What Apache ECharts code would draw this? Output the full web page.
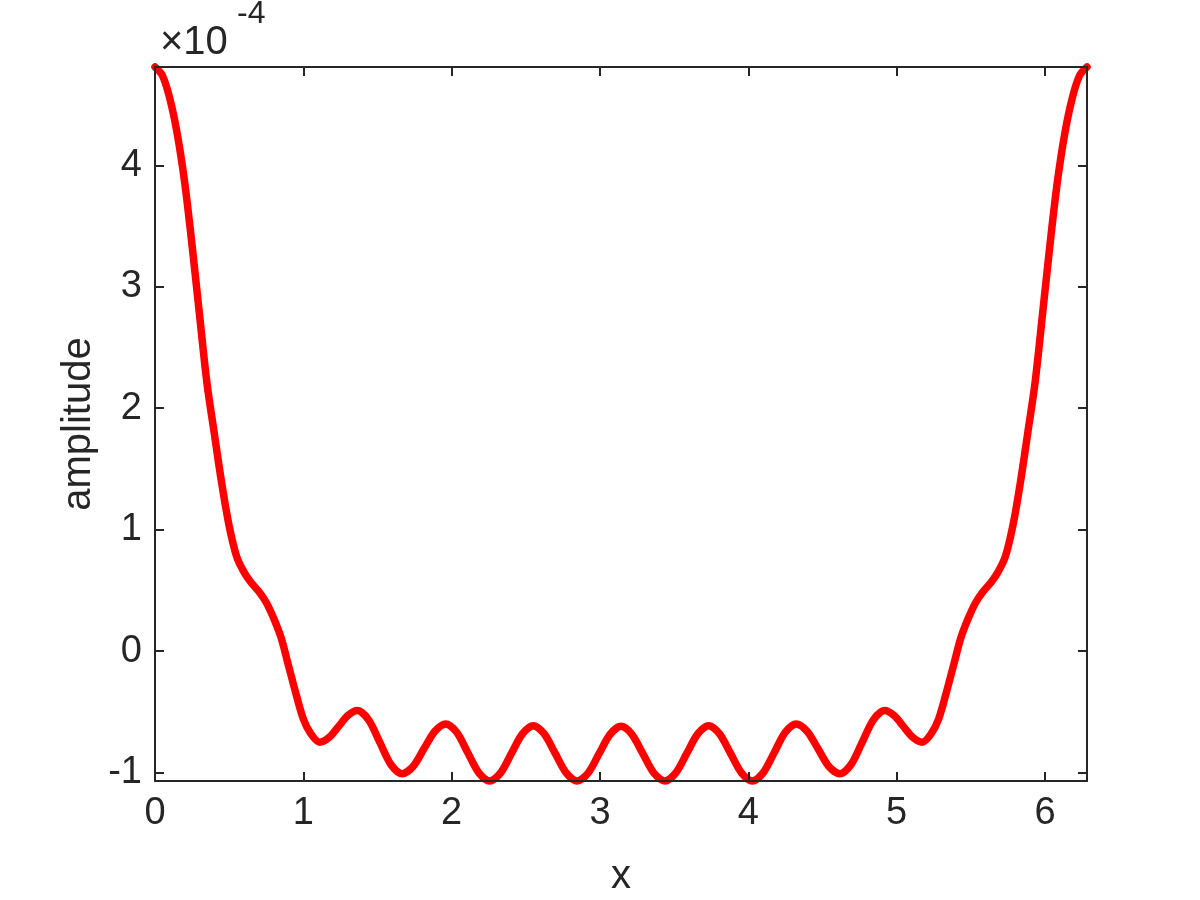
<!DOCTYPE html>
<html>
<head>
<meta charset="utf-8">
<script src="https://cdn.jsdelivr.net/npm/echarts@6/dist/echarts.min.js"></script>
<style>
  html, body { margin: 0; padding: 0; background: #ffffff; }
  #chart { width: 1200px; height: 900px; }
</style>
</head>
<body>
<div id="chart"></div>
<script>
// x positions (radians, 0 .. 2*pi)
const xValues = [0, 0.05, 0.10, 0.15, 0.20, 0.25, 0.30, 0.35, 0.40, 0.45, 0.50, 0.55, 0.60, 0.65, 0.70, 0.75, 0.80, 0.85, 0.90, 0.95, 1.00, 1.05,
  1.11, 1.174, 1.238, 1.301, 1.365,
  1.44, 1.515, 1.59, 1.666,
  1.74, 1.813, 1.887, 1.96,
  2.034, 2.108, 2.182, 2.256,
  2.33, 2.403, 2.477, 2.55,
  2.624, 2.698, 2.772, 2.846,
  2.92, 2.994, 3.068, 3.142,
  3.215, 3.289, 3.363, 3.437,
  3.511, 3.585, 3.659, 3.733,
  3.806, 3.88, 3.954, 4.027,
  4.101, 4.175, 4.249, 4.323,
  4.396, 4.47, 4.543, 4.617,
  4.693, 4.768, 4.843, 4.918,
  4.982, 5.045, 5.109, 5.173,
  5.233, 5.283, 5.333, 5.383, 5.433, 5.483, 5.533, 5.583, 5.633, 5.683, 5.733, 5.783, 5.833, 5.883, 5.933, 5.983, 6.033, 6.083, 6.133, 6.183, 6.233, 6.2832];

// amplitude, in units of 1e-4
const amplitudeE4 = [4.81, 4.74, 4.55, 4.26, 3.86, 3.34, 2.77, 2.21, 1.79, 1.38, 1.03, 0.78, 0.65, 0.56, 0.49, 0.40, 0.27, 0.11, -0.12, -0.35, -0.56, -0.68,
  -0.75, -0.71, -0.62, -0.53, -0.49,
  -0.566, -0.75, -0.934, -1.01,
  -0.95, -0.805, -0.66, -0.60,
  -0.669, -0.835, -1.001, -1.07,
  -1.003, -0.843, -0.682, -0.615,
  -0.682, -0.843, -1.003, -1.07,
  -1.004, -0.845, -0.686, -0.62,
  -0.686, -0.845, -1.004, -1.07,
  -1.003, -0.843, -0.682, -0.615,
  -0.682, -0.843, -1.003, -1.07,
  -1.001, -0.835, -0.669, -0.60,
  -0.66, -0.805, -0.95, -1.01,
  -0.934, -0.75, -0.566, -0.49,
  -0.53, -0.62, -0.71, -0.75,
  -0.68, -0.56, -0.35, -0.12, 0.11, 0.27, 0.40, 0.49, 0.56, 0.65, 0.78, 1.03, 1.38, 1.79, 2.21, 2.77, 3.34, 3.86, 4.26, 4.55, 4.74, 4.81];

const xTicks = [0, 1, 2, 3, 4, 5, 6];
const yTicks = [-1, 0, 1, 2, 3, 4];
const xRange = [0, 6.2832];
const yRange = [-1.07, 4.81];
const xLabel = 'x';
const yLabel = 'amplitude';
const exponentBase = '×10';
const exponentPower = '-4';

const AX = '#262626';
const FONT = 'Liberation Sans, Arial, Helvetica, sans-serif';

const chart = echarts.init(document.getElementById('chart'), null, { renderer: 'canvas' });

const seriesData = xValues.map((x, i) => [x, amplitudeE4[i]]);

const lineStyleAx = { color: AX, width: 2 };

option = {
  backgroundColor: '#ffffff',
  animation: false,
  grid: { left: 155, right: 113, top: 67, bottom: 119, containLabel: false, outerBoundsMode: 'none' },
  xAxis: [
    {
      type: 'value', position: 'bottom', min: xRange[0], max: xRange[1], z: 5,
      name: xLabel, nameLocation: 'middle', nameGap: 76, nameMoveOverlap: false,
      nameTextStyle: { color: AX, fontSize: 40, fontFamily: FONT },
      axisLine: { show: true, onZero: false, lineStyle: lineStyleAx },
      axisTick: { show: true, inside: true, length: 9, lineStyle: lineStyleAx, customValues: xTicks },
      axisLabel: { show: true, color: AX, fontSize: 38, fontFamily: FONT, margin: 14, customValues: xTicks },
      splitLine: { show: false }
    },
    {
      type: 'value', position: 'top', min: xRange[0], max: xRange[1], z: 5,
      axisLine: { show: true, onZero: false, lineStyle: lineStyleAx },
      axisTick: { show: true, inside: true, length: 9, lineStyle: lineStyleAx, customValues: xTicks },
      axisLabel: { show: false },
      splitLine: { show: false }
    }
  ],
  yAxis: [
    {
      type: 'value', position: 'left', min: yRange[0], max: yRange[1], z: 5,
      name: yLabel, nameLocation: 'middle', nameGap: 56, nameRotate: 90, nameMoveOverlap: false,
      nameTextStyle: { color: AX, fontSize: 40, fontFamily: FONT },
      axisLine: { show: true, onZero: false, lineStyle: lineStyleAx },
      axisTick: { show: true, inside: true, length: 9, lineStyle: lineStyleAx, customValues: yTicks },
      axisLabel: { show: true, color: AX, fontSize: 38, fontFamily: FONT, margin: 13, customValues: yTicks },
      splitLine: { show: false }
    },
    {
      type: 'value', position: 'right', min: yRange[0], max: yRange[1], z: 5,
      axisLine: { show: true, onZero: false, lineStyle: lineStyleAx },
      axisTick: { show: true, inside: true, length: 9, lineStyle: lineStyleAx, customValues: yTicks },
      axisLabel: { show: false },
      splitLine: { show: false }
    }
  ],
  graphic: [
    { type: 'text', left: 160, top: 23, style: { text: exponentBase, font: '40px ' + FONT, fill: AX } },
    { type: 'text', left: 237, top: -2, style: { text: exponentPower, font: '32px ' + FONT, fill: AX } }
  ],
  series: [
    {
      type: 'line',
      data: seriesData,
      xAxisIndex: 0, yAxisIndex: 0,
      smooth: 0.3,
      showSymbol: false,
      clip: false,
      z: 3,
      lineStyle: { color: '#ff0000', width: 7.5, cap: 'round', join: 'round' }
    }
  ]
};

chart.setOption(option);
</script>
</body>
</html>
